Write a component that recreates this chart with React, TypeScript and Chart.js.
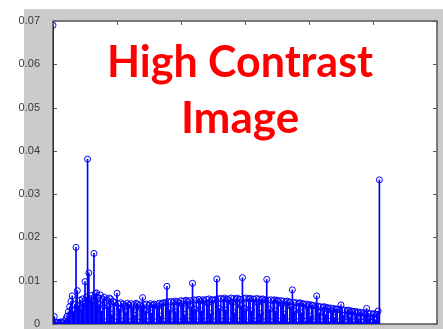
import React, { useEffect, useRef } from "react";
import { Chart, registerables } from "chart.js";

Chart.register(...registerables);

// Normalized histogram (stem plot) of a high-contrast image, bins 0..255
const histValues: number[] = [
  0.069, 0.0017, 0.0004, 0.0003, 0.0004, 0.0003, 0.0005, 0.0004, 0.0003, 0.0006,
  0.0012, 0.0018, 0.0028, 0.004, 0.0052, 0.0065, 0.003, 0.0045, 0.0177, 0.0077,
  0.0042, 0.0055, 0.0035, 0.0058, 0.0048, 0.0098, 0.0062, 0.0381, 0.0118, 0.0058,
  0.0066, 0.0052, 0.0163, 0.007, 0.0072, 0.006, 0.0045, 0.0067, 0.003, 0.0058,
  0.0062, 0.0005, 0.0055, 0.004, 0.006, 0.0058, 0.0022, 0.0052, 0.0049, 0.0004,
  0.0071, 0.0047, 0.0035, 0.0049, 0.0006, 0.0046, 0.0042, 0.0028, 0.0048, 0.0044,
  0.0005, 0.0047, 0.0039, 0.0045, 0.002, 0.0048, 0.0046, 0.0004, 0.0044, 0.0036,
  0.0061, 0.0045, 0.003, 0.0046, 0.0005, 0.0043, 0.0047, 0.0025, 0.0044, 0.0046,
  0.0004, 0.0045, 0.004, 0.0048, 0.0018, 0.0047, 0.0049, 0.0006, 0.005, 0.0087,
  0.0051, 0.0033, 0.0052, 0.0005, 0.005, 0.0053, 0.0028, 0.0052, 0.0049, 0.0005,
  0.0054, 0.0046, 0.0053, 0.0022, 0.0055, 0.0052, 0.0006, 0.0054, 0.004, 0.0094,
  0.0056, 0.0034, 0.0055, 0.0005, 0.0057, 0.0053, 0.003, 0.0056, 0.0054, 0.0006,
  0.0057, 0.0048, 0.0058, 0.0024, 0.0056, 0.0055, 0.0005, 0.0057, 0.0104, 0.0058,
  0.0036, 0.0059, 0.0006, 0.0057, 0.006, 0.0032, 0.0058, 0.0056, 0.0005, 0.006,
  0.005, 0.0059, 0.0026, 0.0058, 0.006, 0.0006, 0.0057, 0.0042, 0.0107, 0.0059,
  0.0035, 0.006, 0.0005, 0.0058, 0.0059, 0.003, 0.0058, 0.0057, 0.0006, 0.0059,
  0.0049, 0.0058, 0.0024, 0.0057, 0.0058, 0.0005, 0.0056, 0.0103, 0.0055, 0.0034,
  0.0056, 0.0005, 0.0054, 0.0056, 0.003, 0.0055, 0.0053, 0.0006, 0.0054, 0.0046,
  0.0053, 0.0022, 0.0052, 0.0053, 0.0005, 0.0051, 0.004, 0.0079, 0.005, 0.003,
  0.0049, 0.0005, 0.0048, 0.0049, 0.0026, 0.0047, 0.0046, 0.0006, 0.0046, 0.004,
  0.0045, 0.0018, 0.0044, 0.0043, 0.0005, 0.0042, 0.0065, 0.0041, 0.0026, 0.004,
  0.0005, 0.0039, 0.004, 0.0022, 0.0038, 0.0037, 0.0006, 0.0037, 0.0031, 0.0036,
  0.0015, 0.0035, 0.0034, 0.0005, 0.0033, 0.0044, 0.0032, 0.002, 0.0032, 0.0004,
  0.0031, 0.0032, 0.0016, 0.003, 0.0029, 0.0005, 0.0029, 0.0024, 0.0028, 0.0012,
  0.0027, 0.0026, 0.0004, 0.0026, 0.0022, 0.0036, 0.0025, 0.0014, 0.0024, 0.0004,
  0.0023, 0.0024, 0.001, 0.0022, 0.003, 0.0333,
];

const xTickValues: number[] = [0, 50, 100, 150, 200, 250, 300];
const yTickValues: number[] = [0, 0.01, 0.02, 0.03, 0.04, 0.05, 0.06, 0.07];
const titleLines: string[] = ["High Contrast", "Image"];

const STEM = "#0000ff";
const AXIS = "#5e5e5e";
const FIG_BG = "#cbcbcb";

const framePlugin = {
  id: "matlabFrame",
  beforeDraw(chart: any) {
    const { ctx, width, height, chartArea: a } = chart;
    ctx.save();
    ctx.fillStyle = "#ffffff";
    ctx.fillRect(0, 0, width, height);
    ctx.fillStyle = FIG_BG;
    ctx.fillRect(a.left - 29, a.top - 12, width, height);
    ctx.fillStyle = "#ffffff";
    ctx.fillRect(a.left, a.top, a.right - a.left, a.bottom - a.top);
    ctx.restore();
  },
  beforeDatasetsDraw(chart: any) {
    const { ctx, chartArea: a, scales } = chart;
    const xs = scales.x;
    const ys = scales.y;
    ctx.save();
    ctx.strokeStyle = AXIS;
    ctx.lineWidth = 1.6;
    ctx.strokeRect(a.left, a.top, a.right - a.left, a.bottom - a.top);
    ctx.lineWidth = 1;
    const tl = 4;
    ctx.beginPath();
    for (const v of yTickValues) {
      const y = Math.round(ys.getPixelForValue(v)) + 0.5;
      ctx.moveTo(a.left, y);
      ctx.lineTo(a.left + tl, y);
      ctx.moveTo(a.right, y);
      ctx.lineTo(a.right - tl, y);
    }
    for (const v of xTickValues) {
      const x = Math.round(xs.getPixelForValue(v)) + 0.5;
      ctx.moveTo(x, a.top);
      ctx.lineTo(x, a.top + tl);
      ctx.moveTo(x, a.bottom);
      ctx.lineTo(x, a.bottom - tl);
    }
    ctx.stroke();
    ctx.restore();
  },
  afterDraw(chart: any) {
    const { ctx, chartArea: a } = chart;
    const cx = a.left + (a.right - a.left) * 0.487;
    ctx.save();
    ctx.fillStyle = "#ff0000";
    ctx.textAlign = "center";
    ctx.textBaseline = "alphabetic";
    ctx.font = "bold 44px Lato, 'Open Sans', sans-serif";
    ctx.fillText(titleLines[0], cx, a.top + 56, 266);
    ctx.fillText(titleLines[1], cx, a.top + 112, 119);
    ctx.restore();
  },
};

export default function App() {
  const canvasRef = useRef<HTMLCanvasElement | null>(null);

  useEffect(() => {
    const canvas = canvasRef.current;
    if (!canvas) return;
    const points = histValues.map((v, i) => ({ x: i, y: v }));
    const tickFont = { family: "'Liberation Sans', Arial, sans-serif", size: 11 };
    const chart = new Chart(canvas, {
      type: "bar",
      data: {
        datasets: [
          {
            type: "line",
            data: points,
            showLine: false,
            pointRadius: 3,
            pointHoverRadius: 3,
            pointBorderWidth: 1,
            pointBorderColor: STEM,
            pointBackgroundColor: "rgba(0,0,0,0)",
            order: 0,
          } as any,
          {
            type: "bar",
            data: points,
            backgroundColor: STEM,
            borderWidth: 0,
            barThickness: 1,
            order: 1,
          } as any,
        ],
      },
      options: {
        animation: false,
        responsive: false,
        events: [],
        layout: { padding: { left: 0, top: 21, right: 6, bottom: 0 } },
        plugins: { legend: { display: false }, tooltip: { enabled: false } },
        scales: {
          x: {
            type: "linear",
            min: 0,
            max: 300,
            offset: false,
            grid: { display: false },
            border: { display: false },
            ticks: { font: tickFont, color: "#555555", padding: 3 },
            afterBuildTicks: (s: any) => {
              s.ticks = xTickValues.map((v) => ({ value: v }));
            },
            afterFit: (s: any) => {
              s.height = 21;
              s.paddingLeft = 0;
              s.paddingRight = 0;
            },
          },
          y: {
            type: "linear",
            min: 0,
            max: 0.07,
            grid: { display: false },
            border: { display: false },
            ticks: {
              font: tickFont,
              color: "#3a3a3a",
              padding: 5,
              callback: (v: any) => (Number(v) === 0 ? "0" : Number(v).toFixed(2)),
            },
            afterBuildTicks: (s: any) => {
              s.ticks = yTickValues.map((v) => ({ value: v }));
            },
            afterFit: (s: any) => {
              s.width = 53;
            },
          },
        },
      } as any,
      plugins: [framePlugin],
    });
    return () => chart.destroy();
  }, []);

  return (
    <div
      style={{
        position: "fixed",
        left: 0,
        top: 0,
        width: 443,
        height: 329,
        overflow: "hidden",
        background: "#ffffff",
      }}
    >
      <canvas ref={canvasRef} width={443} height={345} style={{ display: "block" }} />
    </div>
  );
}
